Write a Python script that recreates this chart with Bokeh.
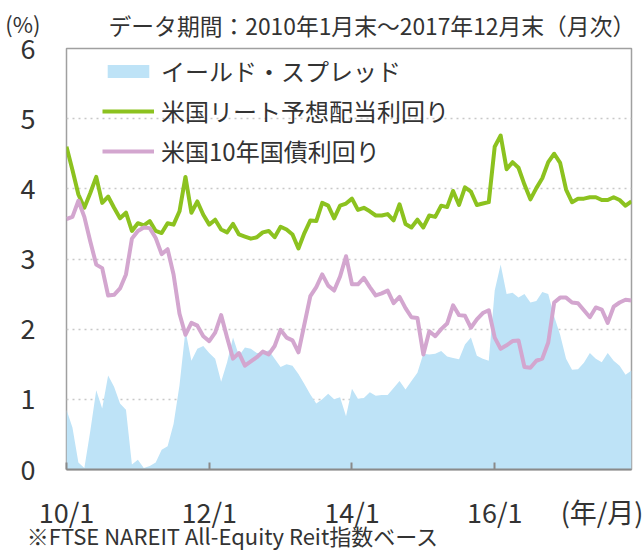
import numpy as np
from bokeh.plotting import figure
from bokeh.models import (Range1d, FixedTicker, Legend, LegendItem, ColumnDataSource, LinearAxis)
from bokeh.embed import file_html
from bokeh.resources import INLINE

# ---------------- data ----------------
years = list(range(2010, 2018))
months = [f"{y % 100:02d}/{m}" for y in years for m in range(1, 13)]

spread = [
    0.85, 0.60, 0.10, 0.02, 0.55, 1.13, 0.87, 1.34, 1.18, 0.94, 0.85, 0.07,
    0.14, 0.02, 0.05, 0.10, 0.28, 0.33, 0.65, 1.20, 1.98, 1.55, 1.72, 1.76,
    1.66, 1.58, 1.25, 1.53, 1.88, 1.62, 1.74, 1.72, 1.66, 1.66, 1.70, 1.58,
    1.46, 1.50, 1.48, 1.36, 1.22, 1.07, 0.94, 1.00, 1.08, 1.00, 1.03, 0.76,
    1.15, 1.01, 1.02, 1.10, 1.05, 1.06, 1.06, 1.16, 1.26, 1.14, 1.26, 1.38,
    1.65, 1.64, 1.65, 1.69, 1.61, 1.59, 1.57, 1.78, 1.88, 1.62, 1.58, 1.55,
    2.55, 2.92, 2.50, 2.52, 2.45, 2.50, 2.38, 2.40, 2.53, 2.50, 2.18, 1.92,
    1.58, 1.42, 1.43, 1.52, 1.66, 1.58, 1.53, 1.66, 1.55, 1.48, 1.35, 1.41,
]
reit_yield = [
    4.60, 4.27, 3.92, 3.73, 3.94, 4.17, 3.80, 3.89, 3.73, 3.58, 3.66, 3.40,
    3.51, 3.48, 3.54, 3.40, 3.37, 3.51, 3.49, 3.68, 4.17, 3.66, 3.82, 3.63,
    3.49, 3.56, 3.42, 3.38, 3.50, 3.35, 3.32, 3.29, 3.31, 3.38, 3.40, 3.31,
    3.46, 3.42, 3.35, 3.15, 3.37, 3.55, 3.54, 3.80, 3.76, 3.58, 3.76, 3.79,
    3.86, 3.70, 3.73, 3.68, 3.62, 3.62, 3.64, 3.55, 3.78, 3.50, 3.45, 3.56,
    3.45, 3.62, 3.60, 3.76, 3.74, 3.97, 3.77, 4.02, 3.96, 3.77, 3.79, 3.81,
    4.60, 4.76, 4.28, 4.38, 4.30, 4.06, 3.85, 4.01, 4.15, 4.38, 4.50, 4.37,
    3.99, 3.81, 3.86, 3.86, 3.88, 3.88, 3.84, 3.84, 3.88, 3.84, 3.76, 3.82,
]
treasury_10y = [
    3.57, 3.60, 3.83, 3.60, 3.25, 2.92, 2.87, 2.48, 2.49, 2.58, 2.78, 3.29,
    3.40, 3.45, 3.44, 3.30, 3.07, 3.14, 2.78, 2.22, 1.92, 2.09, 2.05, 1.90,
    1.83, 1.95, 2.20, 1.88, 1.58, 1.66, 1.48, 1.54, 1.60, 1.68, 1.64, 1.76,
    1.99, 1.88, 1.84, 1.67, 2.07, 2.47, 2.60, 2.78, 2.62, 2.55, 2.75, 3.04,
    2.64, 2.64, 2.73, 2.60, 2.48, 2.51, 2.55, 2.37, 2.46, 2.30, 2.17, 2.16,
    1.64, 1.97, 1.90, 2.00, 2.08, 2.34, 2.20, 2.19, 2.02, 2.14, 2.23, 2.27,
    1.88, 1.72, 1.77, 1.83, 1.84, 1.46, 1.45, 1.55, 1.58, 1.81, 2.38, 2.45,
    2.45, 2.38, 2.37, 2.27, 2.17, 2.31, 2.28, 2.09, 2.32, 2.38, 2.42, 2.41,
]

series_names = ["イールド・スプレッド", "米国リート予想配当利回り", "米国10年国債利回り"]
x_tick_labels = ["10/1", "12/1", "14/1", "16/1"]
y_ticks = [0, 1, 2, 3, 4, 5, 6]
title_text = "データ期間：2010年1月末～2017年12月末（月次）"
note_text = "※FTSE NAREIT All-Equity Reit指数ベース"
y_unit = "(%)"
x_unit = "(年/月)"

# label anchor positions along the month axis (layout, not data)
X_UNIT_POS = 90.3
NOTE_POS = 28.0

# ---------------- styling ----------------
FONT = "Noto Sans CJK JP"
TXT = "#333333"
BLUE = "#bee3f7"
GREEN = "#8cc21f"
PINK = "#d3a6cf"
AXIS_GRAY = "#8a8a8a"

x = list(range(len(months)))
x_ticks = [months.index(l) for l in x_tick_labels]

src = ColumnDataSource(dict(x=x, spread=spread, reit=reit_yield, tsy=treasury_10y))

p = figure(width=643, height=553, output_backend="svg", toolbar_location=None,
           x_range=Range1d(0, len(months) - 1), y_range=Range1d(y_ticks[0], y_ticks[-1]),
           min_border_left=66, min_border_right=12, min_border_top=48, min_border_bottom=80)
p.background_fill_color = "white"
p.border_fill_color = "white"
p.outline_line_color = "#a0a0a0"
p.outline_line_width = 1.5

# title (above)
p.title.text = title_text
p.title.align = "left"
p.title.offset = 42
p.title.standoff = 13
p.title.text_font = FONT
p.title.text_font_size = "22.8px"
p.title.text_font_style = "normal"
p.title.text_color = TXT


def plain_axis(ax, standoff, size):
    ax.axis_line_color = None
    ax.major_tick_line_color = None
    ax.minor_tick_line_color = None
    ax.major_tick_in = 0
    ax.major_tick_out = 0
    ax.minor_tick_in = 0
    ax.minor_tick_out = 0
    ax.major_label_standoff = standoff
    ax.major_label_text_font = FONT
    ax.major_label_text_font_size = size
    ax.major_label_text_color = TXT


# x axis A: line + inner ticks only
ax_a = p.xaxis[0]
ax_a.ticker = FixedTicker(ticks=x_ticks)
ax_a.major_label_overrides = {t: "" for t in x_ticks}
ax_a.major_label_text_font_size = "1px"
ax_a.major_label_standoff = 0
ax_a.major_tick_in = 7
ax_a.major_tick_out = 0
ax_a.minor_tick_line_color = None
ax_a.minor_tick_in = 0
ax_a.minor_tick_out = 0
ax_a.axis_line_color = AXIS_GRAY
ax_a.axis_line_width = 2
ax_a.major_tick_line_color = AXIS_GRAY
ax_a.major_tick_line_width = 2

# x axis B: tick labels + unit
ax_b = LinearAxis(ticker=FixedTicker(ticks=x_ticks + [X_UNIT_POS]))
ax_b.major_label_overrides = {**{t: l for t, l in zip(x_ticks, x_tick_labels)}, X_UNIT_POS: x_unit}
plain_axis(ax_b, 22, "27px")
p.add_layout(ax_b, "below")

# x axis C: footnote
ax_c = LinearAxis(ticker=FixedTicker(ticks=[NOTE_POS]))
ax_c.major_label_overrides = {NOTE_POS: note_text}
plain_axis(ax_c, -15, "22px")
p.add_layout(ax_c, "below")

# y axis: values
ax_y = p.yaxis[0]
ax_y.ticker = FixedTicker(ticks=y_ticks)
plain_axis(ax_y, 31, "27px")

# y axis: unit, placed above the top value
ax_u = LinearAxis(ticker=FixedTicker(ticks=[y_ticks[-1]]))
ax_u.major_label_overrides = {y_ticks[-1]: y_unit + "\n \n "}
plain_axis(ax_u, -23, "22px")
p.add_layout(ax_u, "left")

p.xgrid.visible = False
p.ygrid.ticker = FixedTicker(ticks=y_ticks[1:-1])
p.ygrid.grid_line_color = "#c8c8c8"
p.ygrid.grid_line_dash = "2 4"
p.ygrid.grid_line_width = 1.5

# glyphs
r_spread = p.varea(x="x", y1=0, y2="spread", source=src, fill_color=BLUE)
r_reit = p.line("x", "reit", source=src, line_color=GREEN, line_width=4, line_join="round")
r_tsy = p.line("x", "tsy", source=src, line_color=PINK, line_width=4, line_join="round")

legend = Legend(items=[
    LegendItem(label=series_names[0], renderers=[r_spread]),
    LegendItem(label=series_names[1], renderers=[r_reit]),
    LegendItem(label=series_names[2], renderers=[r_tsy]),
], location=(36, 301))
legend.label_text_font = FONT
legend.label_text_font_size = "24px"
legend.label_text_color = TXT
legend.glyph_width = 52
legend.glyph_height = 16
legend.label_height = 28
legend.label_standoff = 7
legend.spacing = 5
legend.padding = 0
legend.margin = 0
legend.border_line_color = None
legend.background_fill_alpha = 0
p.add_layout(legend)

open("out.html", "w").write(file_html(p, INLINE))
